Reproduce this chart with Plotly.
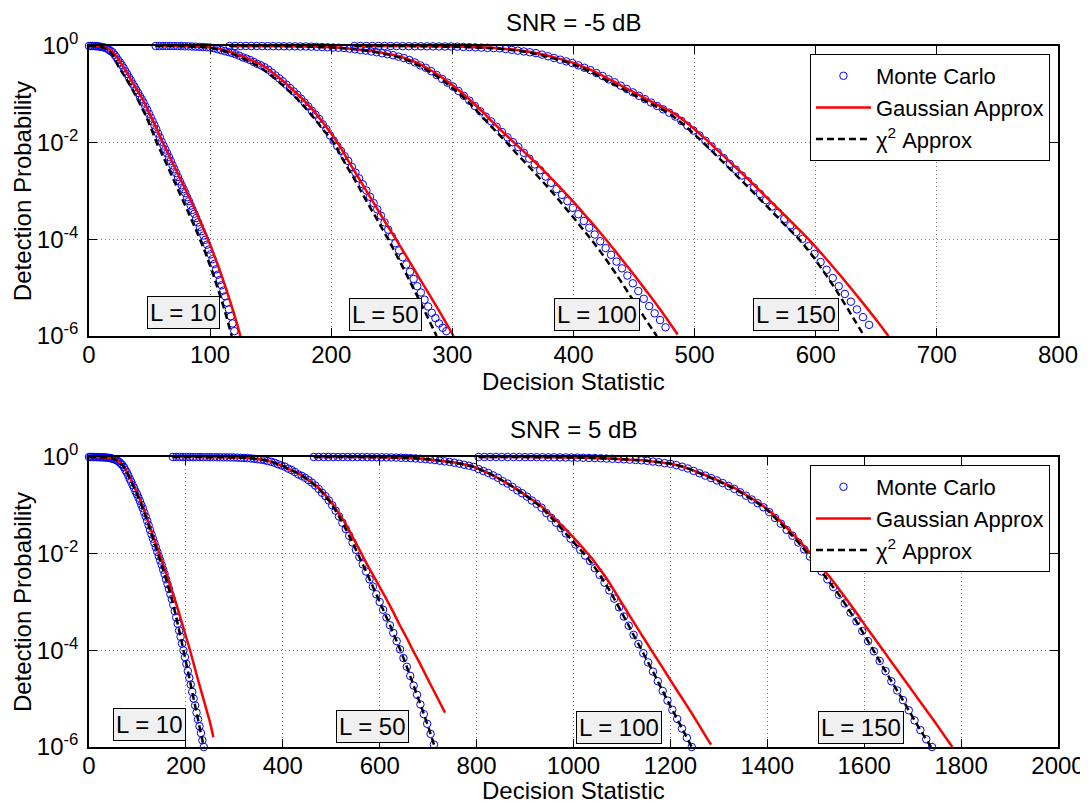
import plotly.graph_objects as go

# ---------------- data (x, log10 Pd) ----------------
# SNR = -5 dB panel
mc_top_L10 = [(0,0),(1.5,0),(3,0),(4.5,0),(6,-0.005),(7.5,-0.008),(9,-0.012),(10.5,-0.02),(12,-0.028),(13.5,-0.037),(15,-0.055),(16.5,-0.08),(18,-0.105),(19.5,-0.13),(21,-0.18),(22.5,-0.23),(24,-0.29),(25.5,-0.34),(27,-0.39),(28.5,-0.45),(30,-0.52),(31.5,-0.58),(33,-0.65),(34.5,-0.71),(36,-0.78),(37.5,-0.84),(39,-0.91),(40.5,-0.97),(42,-1.04),(43.5,-1.1),(45,-1.17),(46.5,-1.25),(48,-1.32),(49.5,-1.4),(51,-1.48),(52.5,-1.56),(54,-1.64),(55.5,-1.72),(57,-1.81),(58.5,-1.89),(60,-1.98),(61.5,-2.06),(63,-2.14),(64.5,-2.22),(66,-2.3),(67.5,-2.38),(69,-2.47),(70.5,-2.55),(72,-2.63),(73.5,-2.71),(75,-2.8),(76.5,-2.88),(78,-2.96),(79.5,-3.04),(81,-3.13),(82.5,-3.21),(84,-3.3),(85.5,-3.39),(87,-3.47),(88.5,-3.56),(90,-3.65),(91.5,-3.74),(93,-3.83),(94.5,-3.92),(96,-4.01),(97.5,-4.11),(99,-4.21),(100.5,-4.31),(102,-4.41),(103.5,-4.51),(105,-4.62),(106.5,-4.73),(108,-4.84),(109.5,-4.95),(111,-5.06),(112.5,-5.18),(114,-5.31),(115.5,-5.45),(117,-5.59),(118.5,-5.74),(120,-5.9)]
mc_top_L50 = [(55,0),(58,0),(61,0),(64,0),(67,0),(70,0),(73,-0.002),(76,-0.003),(79,-0.005),(82,-0.007),(85,-0.01),(88,-0.014),(91,-0.018),(94,-0.022),(97,-0.026),(100,-0.03),(103,-0.045),(106,-0.065),(109,-0.085),(112,-0.105),(115,-0.125),(118,-0.145),(121,-0.17),(124,-0.2),(127,-0.235),(130,-0.26),(133,-0.29),(136,-0.33),(139,-0.37),(142,-0.4),(145,-0.44),(148,-0.49),(151,-0.55),(154,-0.61),(157,-0.67),(160,-0.73),(163,-0.8),(166,-0.87),(169,-0.94),(172,-1.01),(175,-1.09),(178,-1.17),(181,-1.25),(184,-1.34),(187,-1.42),(190,-1.51),(193,-1.62),(196,-1.72),(199,-1.85),(202,-1.96),(205,-2.07),(208,-2.17),(211,-2.28),(214,-2.38),(217,-2.5),(220,-2.62),(223,-2.74),(226,-2.86),(229,-2.99),(232,-3.12),(235,-3.25),(238,-3.38),(241,-3.51),(244,-3.65),(247,-3.8),(250,-3.94),(253,-4.08),(256,-4.23),(259,-4.37),(262,-4.52),(265,-4.67),(268,-4.82),(271,-4.97),(274,-5.1),(277,-5.25),(280,-5.39),(283,-5.52),(286,-5.63),(289,-5.74),(292,-5.83),(295,-5.9)]
mc_top_L100 = [(116,0),(120.5,0),(125,0),(129.5,0),(134,0),(138.5,0),(143,-0.002),(147.5,-0.003),(152,-0.004),(156.5,-0.005),(161,-0.006),(165.5,-0.007),(170,-0.008),(174.5,-0.009),(179,-0.01),(183.5,-0.013),(188,-0.017),(192.5,-0.021),(197,-0.026),(201.5,-0.031),(206,-0.036),(210.5,-0.041),(215,-0.055),(219.5,-0.068),(224,-0.082),(228.5,-0.096),(233,-0.113),(237.5,-0.13),(242,-0.15),(246.5,-0.17),(251,-0.19),(255.5,-0.22),(260,-0.25),(264.5,-0.29),(269,-0.34),(273.5,-0.4),(278,-0.45),(282.5,-0.52),(287,-0.6),(291.5,-0.68),(296,-0.76),(300.5,-0.84),(305,-0.93),(309.5,-1.03),(314,-1.13),(318.5,-1.24),(323,-1.35),(327.5,-1.46),(332,-1.56),(336.5,-1.67),(341,-1.78),(345.5,-1.89),(350,-1.99),(354.5,-2.09),(359,-2.21),(363.5,-2.33),(368,-2.45),(372.5,-2.57),(377,-2.7),(381.5,-2.83),(386,-2.96),(390.5,-3.08),(395,-3.21),(399.5,-3.35),(404,-3.48),(408.5,-3.62),(413,-3.76),(417.5,-3.9),(422,-4.04),(426.5,-4.18),(431,-4.32),(435.5,-4.46),(440,-4.6),(444.5,-4.75),(449,-4.91),(453.5,-5.07),(458,-5.23),(462.5,-5.38),(467,-5.53),(471.5,-5.67),(476,-5.82)]
mc_top_L150 = [(219,0),(224,0),(229,0),(234,0),(239,0),(244,0),(249,-0.001),(254,-0.002),(259,-0.003),(264,-0.004),(269,-0.005),(274,-0.006),(279,-0.007),(284,-0.008),(289,-0.009),(294,-0.01),(299,-0.01),(304,-0.014),(309,-0.019),(314,-0.024),(319,-0.029),(324,-0.034),(329,-0.039),(334,-0.044),(339,-0.049),(344,-0.063),(349,-0.08),(354,-0.097),(359,-0.113),(364,-0.13),(369,-0.147),(374,-0.178),(379,-0.213),(384,-0.248),(389,-0.283),(394,-0.318),(399,-0.353),(404,-0.4),(409,-0.45),(414,-0.5),(419,-0.56),(424,-0.62),(429,-0.69),(434,-0.75),(439,-0.82),(444,-0.89),(449,-0.96),(454,-1.03),(459,-1.1),(464,-1.17),(469,-1.24),(474,-1.31),(479,-1.38),(484,-1.46),(489,-1.55),(494,-1.65),(499,-1.75),(504,-1.85),(509,-1.96),(514,-2.08),(519,-2.2),(524,-2.32),(529,-2.44),(534,-2.56),(539,-2.68),(544,-2.8),(549,-2.93),(554,-3.06),(559,-3.19),(564,-3.32),(569,-3.45),(574,-3.58),(579,-3.71),(584,-3.85),(589,-3.99),(594,-4.14),(599,-4.3),(604,-4.47),(609,-4.63),(614,-4.8),(619,-4.97),(624,-5.13),(629,-5.29),(634,-5.45),(639,-5.61),(644,-5.77)]

gauss_top_L10 = [(0,0),(4,0),(8,-0.01),(11,-0.02),(14,-0.04),(17,-0.075),(20,-0.13),(24,-0.26),(28,-0.42),(32,-0.58),(36,-0.76),(40.5,-0.95),(45,-1.14),(49,-1.35),(53,-1.56),(57,-1.78),(61,-2.0),(66,-2.26),(71,-2.52),(76,-2.78),(81,-3.04),(85.5,-3.28),(90,-3.52),(94.3,-3.77),(98.5,-4.02),(102.3,-4.26),(106,-4.51),(109.6,-4.76),(113,-5.01),(116.2,-5.26),(119.3,-5.5),(122.2,-5.75),(125,-6.0)]
chi2_top_L10 = [(0,0),(3,0),(5,-0.005),(7.5,-0.01),(10,-0.02),(12.5,-0.04),(15,-0.07),(17.5,-0.12),(20,-0.2),(22,-0.3),(24.2,-0.42),(27,-0.53),(30,-0.65),(34,-0.82),(38,-1.0),(42.5,-1.22),(47,-1.45),(51.5,-1.72),(55.9,-2.0),(60.5,-2.25),(65,-2.5),(69.5,-2.75),(74,-3.0),(78.5,-3.25),(83,-3.5),(87.4,-3.75),(91.6,-4.0),(95.6,-4.25),(99.3,-4.5),(102.8,-4.75),(106.1,-5.0),(109.3,-5.25),(112.3,-5.5),(115.1,-5.75),(117.8,-6.0)]
gauss_top_L50 = [(55,0),(70,0),(80,-0.005),(90,-0.015),(100,-0.03),(110,-0.075),(119,-0.145),(126,-0.21),(133,-0.28),(140,-0.36),(146.7,-0.455),(153,-0.58),(160,-0.72),(167,-0.88),(174,-1.04),(181,-1.22),(188,-1.42),(194.5,-1.63),(201,-1.85),(207,-2.07),(213,-2.33),(219,-2.58),(225,-2.83),(231,-3.08),(237,-3.33),(243,-3.58),(248.5,-3.8),(254,-4.02),(260,-4.27),(266,-4.52),(272,-4.77),(278,-5.02),(284,-5.27),(290,-5.52),(295.5,-5.76),(301,-6.0)]
chi2_top_L50 = [(55,0),(70,0),(80,-0.008),(90,-0.02),(100,-0.04),(108,-0.08),(116,-0.14),(123,-0.21),(130,-0.29),(137,-0.38),(144,-0.49),(151,-0.62),(158,-0.77),(165,-0.93),(172,-1.1),(179,-1.29),(186,-1.5),(193,-1.72),(202,-2.0),(207.5,-2.25),(213,-2.5),(219,-2.75),(224.5,-3.0),(230,-3.25),(235.8,-3.5),(241.4,-3.75),(247,-4.0),(252.3,-4.25),(257.5,-4.5),(262.6,-4.75),(267.5,-5.0),(272.5,-5.25),(277.4,-5.5),(282.2,-5.75),(287,-6.0)]
gauss_top_L100 = [(116,0),(150,0),(180,-0.01),(195,-0.02),(210,-0.04),(220,-0.065),(230,-0.095),(238,-0.125),(246,-0.16),(254,-0.2),(262,-0.26),(271,-0.35),(280,-0.47),(289,-0.61),(298,-0.77),(305,-0.91),(312,-1.06),(319,-1.22),(326,-1.39),(333,-1.57),(340,-1.74),(345.5,-1.87),(351,-2.0),(363,-2.28),(375,-2.57),(387,-2.88),(399,-3.2),(411,-3.54),(423,-3.89),(435,-4.26),(447,-4.64),(459,-5.03),(471,-5.43),(486,-5.97)]
chi2_top_L100 = [(116,0),(150,0),(175,-0.01),(195,-0.025),(210,-0.045),(222,-0.075),(235,-0.12),(243,-0.16),(251,-0.2),(259,-0.26),(268,-0.35),(277,-0.47),(286,-0.61),(295,-0.77),(302,-0.91),(309,-1.06),(315.5,-1.22),(322,-1.39),(328.5,-1.57),(335,-1.74),(340,-1.87),(346,-2.03),(354,-2.25),(362,-2.46),(370,-2.68),(378,-2.9),(386,-3.13),(394,-3.37),(402,-3.61),(409,-3.83),(416.4,-4.06),(423,-4.28),(429.5,-4.51),(436,-4.75),(442.5,-5.0),(449,-5.25),(455.5,-5.5),(462,-5.75),(468.8,-6.0)]
gauss_top_L150 = [(219,0),(260,0),(300,-0.01),(320,-0.025),(340,-0.05),(355,-0.09),(370,-0.15),(385,-0.24),(400,-0.35),(410,-0.45),(420,-0.56),(430.5,-0.7),(441,-0.84),(451.5,-0.98),(462,-1.12),(472,-1.25),(482.5,-1.39),(495,-1.62),(507,-1.88),(520,-2.18),(533,-2.49),(546,-2.8),(559,-3.12),(572,-3.44),(584,-3.74),(595,-4.02),(606,-4.33),(617,-4.65),(628,-4.98),(639,-5.32),(650,-5.67),(660,-6.0)]
chi2_top_L150 = [(219,0),(250,0),(290,-0.01),(315,-0.025),(335,-0.05),(351,-0.09),(366,-0.15),(381,-0.24),(396,-0.35),(406,-0.45),(416,-0.56),(426.5,-0.7),(437,-0.84),(447.5,-0.98),(458,-1.12),(468,-1.25),(478.5,-1.39),(490.5,-1.62),(502,-1.88),(514.5,-2.18),(527,-2.49),(539.5,-2.8),(552,-3.12),(564.5,-3.44),(576,-3.74),(587,-4.02),(597,-4.33),(606,-4.65),(615,-4.98),(623.5,-5.32),(632,-5.67),(640,-6.0)]

# SNR = 5 dB panel
mc_bot_L10 = [(0,0),(3,0),(6,0),(9,-0.001),(12,-0.001),(15,-0.002),(18,-0.003),(21,-0.003),(24,-0.005),(27,-0.006),(30,-0.008),(33,-0.009),(36,-0.011),(39,-0.016),(42,-0.02),(45,-0.025),(48,-0.034),(51,-0.043),(54,-0.052),(57,-0.068),(60,-0.087),(63,-0.11),(66,-0.14),(69,-0.17),(72,-0.21),(75,-0.27),(78,-0.32),(81,-0.38),(84,-0.45),(87,-0.51),(90,-0.58),(93,-0.64),(96,-0.71),(99,-0.77),(102,-0.84),(105,-0.91),(108,-0.99),(111,-1.06),(114,-1.15),(117,-1.23),(120,-1.32),(123,-1.41),(126,-1.51),(129,-1.6),(132,-1.69),(135,-1.78),(138,-1.87),(141,-1.96),(144,-2.05),(147,-2.14),(150,-2.23),(153,-2.33),(156,-2.42),(159,-2.53),(162,-2.63),(165,-2.73),(168,-2.84),(171,-2.94),(174,-3.06),(177,-3.19),(180,-3.32),(183,-3.45),(186,-3.59),(189,-3.72),(192,-3.86),(195,-4.0),(198,-4.14),(201,-4.28),(204,-4.43),(207,-4.57),(210,-4.71),(213,-4.86),(216,-5.0),(219,-5.14),(222,-5.29),(225,-5.43),(228,-5.57),(231,-5.71),(234,-5.86),(237,-6.0)]
mc_bot_L50 = [(173,0),(180,0),(187,0),(194,-0.001),(201,-0.001),(208,-0.001),(215,-0.002),(222,-0.002),(229,-0.002),(236,-0.003),(243,-0.003),(250,-0.003),(257,-0.004),(264,-0.005),(271,-0.006),(278,-0.007),(285,-0.008),(292,-0.009),(299,-0.01),(306,-0.013),(313,-0.017),(320,-0.02),(327,-0.023),(334,-0.03),(341,-0.038),(348,-0.046),(355,-0.054),(362,-0.065),(369,-0.083),(376,-0.1),(383,-0.12),(390,-0.15),(397,-0.175),(404,-0.2),(411,-0.24),(418,-0.27),(425,-0.31),(432,-0.36),(439,-0.39),(446,-0.43),(453,-0.48),(460,-0.53),(467,-0.59),(474,-0.66),(481,-0.74),(488,-0.81),(495,-0.9),(502,-1.0),(509,-1.11),(516,-1.23),(523,-1.36),(530,-1.49),(537,-1.63),(544,-1.77),(551,-1.92),(558,-2.07),(565,-2.22),(572,-2.37),(579,-2.53),(586,-2.68),(593,-2.84),(600,-3.0),(607,-3.16),(614,-3.32),(621,-3.48),(628,-3.64),(635,-3.81),(642,-3.98),(649,-4.16),(656,-4.34),(663,-4.53),(670,-4.73),(677,-4.92),(684,-5.12),(691,-5.32),(698,-5.52),(705,-5.73),(712,-5.95)]
mc_bot_L100 = [(464,0),(474,0),(484,0),(494,0),(504,-0.001),(514,-0.001),(524,-0.001),(534,-0.001),(544,-0.002),(554,-0.002),(564,-0.002),(574,-0.003),(584,-0.004),(594,-0.005),(604,-0.006),(614,-0.007),(624,-0.009),(634,-0.012),(644,-0.015),(654,-0.018),(664,-0.023),(674,-0.03),(684,-0.036),(694,-0.044),(704,-0.053),(714,-0.064),(724,-0.077),(734,-0.09),(744,-0.102),(754,-0.118),(764,-0.138),(774,-0.16),(784,-0.18),(794,-0.204),(804,-0.25),(814,-0.29),(824,-0.33),(834,-0.38),(844,-0.43),(854,-0.5),(864,-0.55),(874,-0.62),(884,-0.69),(894,-0.75),(904,-0.82),(914,-0.9),(924,-0.97),(934,-1.05),(944,-1.16),(954,-1.26),(964,-1.36),(974,-1.47),(984,-1.58),(994,-1.69),(1004,-1.81),(1014,-1.92),(1024,-2.04),(1034,-2.15),(1044,-2.3),(1054,-2.44),(1064,-2.6),(1074,-2.76),(1084,-2.93),(1094,-3.11),(1104,-3.3),(1114,-3.49),(1124,-3.68),(1134,-3.87),(1144,-4.06),(1154,-4.25),(1164,-4.44),(1174,-4.64),(1184,-4.84),(1194,-5.04),(1204,-5.23),(1214,-5.42),(1224,-5.62),(1234,-5.81),(1244,-6.0)]
mc_bot_L150 = [(804,0),(816,0),(828,0),(840,0),(852,-0.001),(864,-0.001),(876,-0.001),(888,-0.002),(900,-0.002),(912,-0.003),(924,-0.004),(936,-0.005),(948,-0.006),(960,-0.007),(972,-0.008),(984,-0.009),(996,-0.011),(1008,-0.013),(1020,-0.016),(1032,-0.019),(1044,-0.022),(1056,-0.027),(1068,-0.032),(1080,-0.037),(1092,-0.042),(1104,-0.048),(1116,-0.055),(1128,-0.062),(1140,-0.069),(1152,-0.078),(1164,-0.094),(1176,-0.108),(1188,-0.127),(1200,-0.142),(1212,-0.167),(1224,-0.2),(1236,-0.237),(1248,-0.288),(1260,-0.336),(1272,-0.385),(1284,-0.436),(1296,-0.485),(1308,-0.54),(1320,-0.6),(1332,-0.66),(1344,-0.73),(1356,-0.8),(1368,-0.88),(1380,-0.955),(1392,-1.04),(1404,-1.14),(1416,-1.26),(1428,-1.38),(1440,-1.51),(1452,-1.63),(1464,-1.77),(1476,-1.91),(1488,-2.06),(1500,-2.21),(1512,-2.37),(1524,-2.53),(1536,-2.69),(1548,-2.85),(1560,-3.03),(1572,-3.22),(1584,-3.4),(1596,-3.6),(1608,-3.81),(1620,-4.02),(1632,-4.22),(1644,-4.43),(1656,-4.64),(1668,-4.83),(1680,-5.03),(1692,-5.24),(1704,-5.45),(1716,-5.65),(1728,-5.84),(1740,-6.0)]

gauss_bot_L10 = [(0,0),(15,0),(25,-0.004),(35,-0.01),(45,-0.025),(50,-0.038),(55,-0.055),(60,-0.083),(65,-0.12),(70.8,-0.18),(75,-0.25),(80,-0.34),(86,-0.46),(91.5,-0.58),(97,-0.69),(103,-0.83),(108,-0.95),(113.5,-1.09),(119,-1.24),(124,-1.39),(129.5,-1.55),(135,-1.71),(140.5,-1.86),(146,-2.01),(152,-2.19),(158,-2.37),(164,-2.55),(170,-2.74),(175.5,-2.9),(181,-3.07),(188,-3.3),(194.5,-3.52),(201.5,-3.76),(208.5,-4.0),(215,-4.24),(222,-4.5),(229,-4.75),(236,-5.0),(243,-5.25),(250,-5.5),(256.6,-5.8)]
chi2_bot_L10 = [(0,0),(15,0),(25,-0.004),(35,-0.01),(45,-0.025),(50,-0.038),(55,-0.055),(60,-0.085),(65,-0.125),(70.8,-0.19),(75,-0.26),(80,-0.36),(86,-0.48),(91.5,-0.6),(97,-0.72),(102,-0.84),(107,-0.96),(112,-1.09),(117,-1.23),(122,-1.38),(127,-1.53),(132.7,-1.71),(138,-1.87),(143,-2.02),(148,-2.18),(153.4,-2.34),(158,-2.49),(163,-2.66),(167.5,-2.82),(172,-2.98),(177.5,-3.21),(183,-3.45),(189,-3.72),(195,-4.0),(200.5,-4.26),(206,-4.52),(211,-4.76),(216,-5.0),(221,-5.24),(226.5,-5.5),(231.7,-5.75),(237,-6.0)]
gauss_bot_L50 = [(173,0),(220,-0.002),(250,-0.003),(275,-0.006),(300,-0.01),(315,-0.016),(330,-0.025),(345,-0.04),(360,-0.06),(370,-0.083),(380,-0.11),(390,-0.15),(401,-0.19),(410,-0.24),(420,-0.28),(430,-0.33),(440,-0.39),(455,-0.49),(470,-0.6),(478.5,-0.69),(487,-0.78),(495.5,-0.88),(504,-0.99),(512,-1.11),(520,-1.23),(528,-1.36),(537,-1.52),(546,-1.69),(555,-1.86),(565,-2.05),(575,-2.24),(585,-2.42),(595,-2.6),(605,-2.78),(614.4,-2.95),(628,-3.21),(641,-3.47),(655,-3.73),(668.5,-4.0),(685,-4.31),(701,-4.63),(718,-4.96),(734.8,-5.29)]
chi2_bot_L50 = [(173,0),(220,-0.002),(250,-0.003),(275,-0.006),(300,-0.01),(315,-0.016),(330,-0.025),(345,-0.04),(360,-0.06),(370,-0.083),(380,-0.11),(390,-0.15),(401,-0.19),(410,-0.24),(420,-0.28),(430,-0.33),(440,-0.39),(455,-0.49),(470,-0.62),(478.5,-0.7),(487,-0.8),(495.5,-0.91),(504,-1.03),(512,-1.16),(520,-1.3),(527.5,-1.44),(535,-1.59),(542.5,-1.74),(550,-1.9),(557.5,-2.06),(565,-2.22),(572.5,-2.38),(580,-2.55),(588.5,-2.74),(597,-2.93),(604.5,-3.1),(612,-3.27),(619.5,-3.44),(627,-3.62),(634.5,-3.8),(642,-3.98),(651,-4.21),(660,-4.45),(669,-4.7),(678,-4.95),(687,-5.2),(696,-5.46),(704,-5.7),(712,-5.95)]
gauss_bot_L100 = [(464,0),(520,-0.001),(560,-0.002),(590,-0.005),(620,-0.008),(640,-0.013),(660,-0.02),(675,-0.03),(690,-0.04),(711,-0.06),(730,-0.085),(750,-0.11),(772,-0.15),(793,-0.2),(810,-0.27),(828,-0.35),(845,-0.44),(862,-0.54),(880,-0.65),(897,-0.76),(914,-0.88),(931,-1.0),(948,-1.15),(966,-1.32),(984,-1.5),(1002,-1.69),(1020,-1.89),(1038,-2.1),(1053,-2.3),(1068,-2.51),(1082,-2.73),(1096,-2.96),(1112,-3.22),(1128,-3.48),(1144.5,-3.74),(1161,-4.0),(1177.5,-4.26),(1194,-4.52),(1211,-4.79),(1228,-5.05),(1244.5,-5.31),(1261,-5.58),(1272.5,-5.77),(1284,-5.95)]
chi2_bot_L100 = [(464,0),(520,-0.001),(560,-0.002),(590,-0.005),(620,-0.008),(640,-0.013),(660,-0.02),(675,-0.03),(690,-0.04),(711,-0.06),(730,-0.085),(750,-0.11),(772,-0.15),(793,-0.2),(810,-0.27),(828,-0.35),(845,-0.44),(862,-0.54),(880,-0.65),(897,-0.77),(914,-0.89),(931,-1.02),(948,-1.19),(966,-1.38),(983,-1.57),(1000,-1.76),(1017,-1.95),(1034,-2.15),(1047,-2.33),(1060,-2.53),(1072.5,-2.73),(1085,-2.95),(1098.5,-3.2),(1112,-3.45),(1126,-3.72),(1140,-3.98),(1153,-4.23),(1166,-4.48),(1179,-4.74),(1192,-5.0),(1205,-5.25),(1218,-5.5),(1231,-5.75),(1244,-6.0)]
gauss_bot_L150 = [(804,0),(850,-0.001),(900,-0.002),(940,-0.005),(980,-0.008),(1010,-0.013),(1040,-0.02),(1070,-0.032),(1100,-0.045),(1125,-0.06),(1150,-0.078),(1178,-0.11),(1206,-0.15),(1234,-0.23),(1261,-0.33),(1278,-0.4),(1295,-0.47),(1312,-0.55),(1330,-0.63),(1347.5,-0.73),(1365,-0.84),(1382.5,-0.95),(1400,-1.08),(1416,-1.22),(1432,-1.38),(1447.5,-1.54),(1463,-1.7),(1479,-1.88),(1495,-2.06),(1512.5,-2.28),(1530,-2.5),(1548.5,-2.74),(1567,-2.99),(1585,-3.24),(1603,-3.5),(1621,-3.75),(1639,-4.0),(1657,-4.25),(1675,-4.5),(1693,-4.75),(1711,-5.0),(1729,-5.25),(1747,-5.5),(1764.5,-5.75),(1782,-6.0)]
chi2_bot_L150 = [(804,0),(850,-0.001),(900,-0.002),(940,-0.005),(980,-0.008),(1010,-0.013),(1040,-0.02),(1070,-0.032),(1100,-0.045),(1125,-0.06),(1150,-0.078),(1178,-0.11),(1206,-0.15),(1234,-0.23),(1261,-0.34),(1278,-0.41),(1295,-0.48),(1312,-0.56),(1330,-0.65),(1347.5,-0.75),(1365,-0.86),(1382.5,-0.97),(1400,-1.1),(1415,-1.25),(1430,-1.4),(1445,-1.56),(1460,-1.72),(1475,-1.9),(1490,-2.08),(1505,-2.28),(1520,-2.48),(1535,-2.68),(1550,-2.88),(1567.5,-3.15),(1585,-3.42),(1602,-3.71),(1619,-4.0),(1633.5,-4.25),(1648,-4.5),(1663,-4.75),(1678,-5.0),(1692.5,-5.25),(1707,-5.5),(1722,-5.75),(1738,-6.0)]

L_labels = ["L = 10", "L = 50", "L = 100", "L = 150"]
top_label_pos = [(78.4, -5.52), (245, -5.56), (419, -5.56), (584, -5.56)]
bot_label_pos = [(125, -5.53), (586, -5.57), (1094, -5.6), (1593, -5.6)]
panel_titles = ["SNR = -5 dB", "SNR = 5 dB"]
x_title = "Decision Statistic"
y_title = "Detection Probability"
x_ticks_top = [0, 100, 200, 300, 400, 500, 600, 700, 800]
x_ticks_bot = [0, 200, 400, 600, 800, 1000, 1200, 1400, 1600, 1800, 2000]
y_tickvals = [1e-6, 1e-4, 1e-2, 1]
y_ticktext = ["10<sup>-6</sup>", "10<sup>-4</sup>", "10<sup>-2</sup>", "10<sup>0</sup>"]

# ---------------- figure ----------------
FONT = "Liberation Sans, Arial, Helvetica, sans-serif"
TXT = dict(family=FONT, size=24, color="black")
LEG = dict(family=FONT, size=22, color="black")


def xy(pairs):
    return [p[0] for p in pairs], [10 ** p[1] for p in pairs]


fig = go.Figure()

panels = [
    ("x", "y", "legend", [mc_top_L10, mc_top_L50, mc_top_L100, mc_top_L150],
     [gauss_top_L10, gauss_top_L50, gauss_top_L100, gauss_top_L150],
     [chi2_top_L10, chi2_top_L50, chi2_top_L100, chi2_top_L150]),
    ("x2", "y2", "legend2", [mc_bot_L10, mc_bot_L50, mc_bot_L100, mc_bot_L150],
     [gauss_bot_L10, gauss_bot_L50, gauss_bot_L100, gauss_bot_L150],
     [chi2_bot_L10, chi2_bot_L50, chi2_bot_L100, chi2_bot_L150]),
]

for xa, ya, lg, mcs, gs, cs in panels:
    for i in range(4):
        x, y = xy(mcs[i])
        fig.add_trace(go.Scatter(x=x, y=y, mode="markers", xaxis=xa, yaxis=ya,
                                 marker=dict(symbol="circle-open", size=7.5, color="#0000ff",
                                             line=dict(width=1, color="#0000ff")),
                                 name="Monte Carlo", legend=lg, showlegend=(i == 0),
                                 cliponaxis=False))
        x, y = xy(gs[i])
        fig.add_trace(go.Scatter(x=x, y=y, mode="lines", xaxis=xa, yaxis=ya,
                                 line=dict(color="#ff0000", width=2.5, shape="spline", smoothing=1.0),
                                 name="Gaussian Approx", legend=lg, showlegend=(i == 0)))
        x, y = xy(cs[i])
        fig.add_trace(go.Scatter(x=x, y=y, mode="lines", xaxis=xa, yaxis=ya,
                                 line=dict(color="#000000", width=2.5, dash="7px,4px",
                                           shape="spline", smoothing=1.0),
                                 name="\u03c7<sup>2</sup> Approx", legend=lg, showlegend=(i == 0)))

axis_common = dict(showline=True, linecolor="black", linewidth=1.5, mirror="ticks",
                   ticks="inside", ticklen=8, tickcolor="black", tickwidth=1,
                   showgrid=True, gridcolor="#808080", griddash="1px,3px", gridwidth=1,
                   zeroline=False, tickfont=TXT, automargin=False)

# page body has an 8px margin, so the figure is 8px smaller than the window
fig.update_layout(
    width=1080, height=795,
    margin=dict(l=81, r=30, t=38, b=56),
    paper_bgcolor="white", plot_bgcolor="white",
    font=TXT,
    xaxis=dict(domain=[0, 1], anchor="y", range=[0, 800], tickvals=x_ticks_top,
               ticklabelstandoff=-4, **axis_common),
    yaxis=dict(domain=[0.5863, 1], anchor="x", type="log", range=[-6, 0],
               tickvals=y_tickvals, ticktext=y_ticktext, ticklabelstandoff=4, **axis_common),
    xaxis2=dict(domain=[0, 1], anchor="y2", range=[0, 2000], tickvals=x_ticks_bot,
                ticklabelstandoff=-4, **axis_common),
    yaxis2=dict(domain=[0, 0.4137], anchor="x2", type="log", range=[-6, 0],
                tickvals=y_tickvals, ticktext=y_ticktext, ticklabelstandoff=4, **axis_common),
    legend=dict(x=0.9917, xanchor="right", y=0.9886, yanchor="top",
                bgcolor="white", bordercolor="black", borderwidth=1,
                font=LEG, tracegroupgap=0, itemwidth=55),
    legend2=dict(x=0.9917, xanchor="right", y=0.4023, yanchor="top",
                 bgcolor="white", bordercolor="black", borderwidth=1,
                 font=LEG, tracegroupgap=0, itemwidth=55),
    showlegend=True,
)

annotations = []
for txt, (ax_, ay_) in zip(L_labels, top_label_pos):
    annotations.append(dict(x=ax_, y=ay_, xref="x", yref="y", text=txt, showarrow=False,
                            font=TXT, bgcolor="#f0f0f0", bordercolor="black",
                            borderwidth=1, borderpad=2))
for txt, (ax_, ay_) in zip(L_labels, bot_label_pos):
    annotations.append(dict(x=ax_, y=ay_, xref="x2", yref="y2", text=txt, showarrow=False,
                            font=TXT, bgcolor="#f0f0f0", bordercolor="black",
                            borderwidth=1, borderpad=2))
# panel titles
annotations.append(dict(x=0.5, y=1.0342, xref="paper", yref="paper", text=panel_titles[0],
                        showarrow=False, font=TXT, xanchor="center", yanchor="middle",
                        height=22, valign="middle", borderpad=0))
annotations.append(dict(x=0.5, y=0.4536, xref="paper", yref="paper", text=panel_titles[1],
                        showarrow=False, font=TXT, xanchor="center", yanchor="middle",
                        height=22, valign="middle", borderpad=0))
# axis titles
for yc in (0.793, 0.2068):
    annotations.append(dict(x=-0.0691, y=yc, xref="paper", yref="paper", text=y_title,
                            textangle=-90, showarrow=False, font=TXT,
                            xanchor="center", yanchor="middle"))
annotations.append(dict(x=0.5, y=0.5221, xref="paper", yref="paper", text=x_title,
                        showarrow=False, font=TXT, xanchor="center", yanchor="middle"))
annotations.append(dict(x=0.5, y=-0.0613, xref="paper", yref="paper", text=x_title,
                        showarrow=False, font=TXT, xanchor="center", yanchor="middle",
                        height=22, valign="middle", borderpad=0))
fig.update_layout(annotations=annotations)

fig.write_html("out.html")
